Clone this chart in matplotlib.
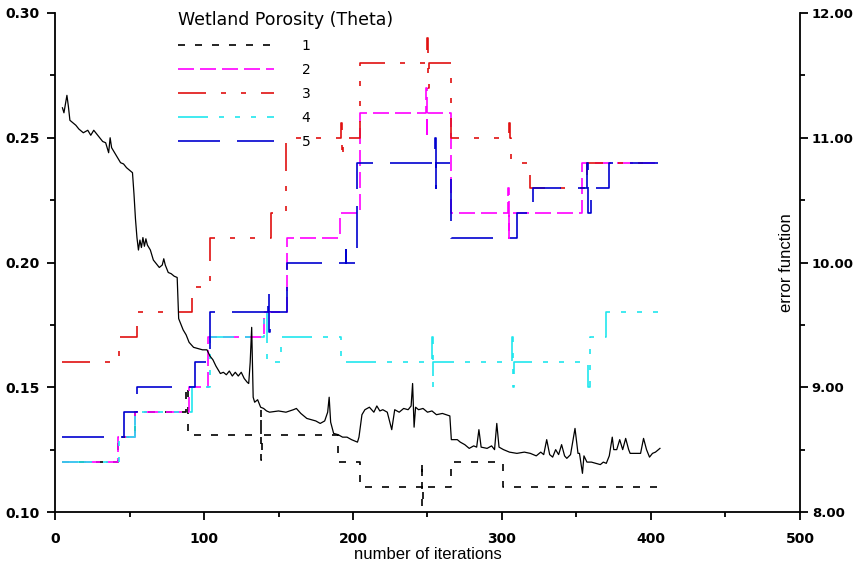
import numpy as np
import matplotlib
matplotlib.use("Agg")
import matplotlib.pyplot as plt
from matplotlib.ticker import MultipleLocator, FormatStrFormatter

plt.rcParams['lines.scale_dashes'] = False

# ---- data ----
# porosity parameter sets, step values vs iteration
it1 = [5, 42, 54, 88, 89, 138, 138.5, 139, 190, 205, 246, 246.5, 247, 266, 301, 405]
th1 = [0.12, 0.13, 0.14, 0.15, 0.131, 0.141, 0.121, 0.131, 0.12, 0.11, 0.12, 0.102, 0.11, 0.12, 0.11, 0.11]

it2 = [5, 42, 54, 90, 103, 140, 156, 191, 205, 249, 249.5, 250, 266, 304, 304.5, 305, 354, 405]
th2 = [0.12, 0.13, 0.14, 0.15, 0.17, 0.18, 0.21, 0.22, 0.26, 0.27, 0.25, 0.26, 0.22, 0.23, 0.21, 0.22, 0.24, 0.24]

it3 = [5, 43, 55, 92, 104, 145, 155, 192, 192.5, 193, 205, 250, 250.5, 251, 266, 305, 305.5, 306, 319, 357, 405]
th3 = [0.16, 0.17, 0.18, 0.19, 0.21, 0.22, 0.25, 0.256, 0.242, 0.25, 0.28, 0.29, 0.27, 0.28, 0.25, 0.256, 0.25, 0.24, 0.23, 0.24, 0.24]

it4 = [5, 43, 54, 92, 104, 140, 142, 152, 192, 253, 253.5, 254, 307, 307.5, 308, 358, 359, 370, 405]
th4 = [0.12, 0.13, 0.14, 0.15, 0.17, 0.18, 0.16, 0.17, 0.16, 0.17, 0.15, 0.16, 0.17, 0.15, 0.16, 0.15, 0.17, 0.18, 0.18]

it5 = [5, 46, 55, 94, 104, 143, 143.5, 144, 156, 195, 195.5, 203, 255, 255.5, 256, 266, 310, 321, 357, 358, 360, 372, 405]
th5 = [0.13, 0.14, 0.15, 0.16, 0.18, 0.188, 0.172, 0.18, 0.20, 0.205, 0.20, 0.24, 0.25, 0.23, 0.24, 0.21, 0.22, 0.23, 0.24, 0.22, 0.23, 0.24, 0.24]

labels = ['1', '2', '3', '4', '5']

# error function (right axis)
err_it = [5, 6, 8, 9, 10, 12, 14, 16, 19, 22, 24, 26, 28, 30, 32, 34, 36, 37, 38, 40,
          42, 44, 46, 48, 50, 52, 53, 54, 55, 56, 57, 58, 59, 60, 61, 62, 64, 66, 68, 70,
          72, 73, 74, 76, 78, 80, 82, 83, 84, 86, 88, 90, 93, 96, 99, 102, 104, 106, 108, 111,
          113, 115, 117, 119, 121, 123, 125, 127, 129, 130, 131, 132, 133, 134, 136, 138, 140, 142, 144, 150,
          155, 160, 162, 165, 169, 172, 175, 178, 181, 183, 184, 185, 187, 190, 193, 196, 199, 203, 204, 206,
          208, 211, 214, 216, 218, 220, 223, 226, 228, 231, 234, 237, 239, 240, 241, 242, 244, 247, 250, 253,
          256, 260, 265, 266, 270, 272, 275, 278, 281, 283, 284.5, 286, 290, 293, 295, 296.5, 298, 301, 305, 310,
          315, 319, 323, 326, 328, 330, 332, 334, 336, 338, 340, 342, 343.5, 346, 349, 351, 352, 354, 355, 357,
          360, 363, 366, 368, 370, 372, 374, 375, 377, 379, 381, 383, 385, 386, 390, 393, 395, 397, 399, 401,
          403, 406]
err_val = [11.24, 11.20, 11.34, 11.25, 11.14, 11.12, 11.10, 11.07, 11.04, 11.06, 11.02, 11.06, 11.03, 11.0, 10.97, 10.96, 10.88, 11.0, 10.92, 10.88,
           10.84, 10.8, 10.79, 10.76, 10.74, 10.72, 10.55, 10.35, 10.2, 10.1, 10.18, 10.12, 10.2, 10.13, 10.19, 10.14, 10.1, 10.02, 9.99, 9.96,
           9.98, 10.03, 9.98, 9.92, 9.91, 9.89, 9.88, 9.55, 9.52, 9.46, 9.42, 9.36, 9.32, 9.31, 9.3, 9.3, 9.25, 9.22, 9.17, 9.11,
           9.12, 9.1, 9.13, 9.09, 9.12, 9.09, 9.12, 9.07, 9.04, 9.03, 9.2, 9.48, 8.92, 8.88, 8.9, 8.84, 8.83, 8.81, 8.8, 8.81,
           8.8, 8.82, 8.83, 8.79, 8.75, 8.74, 8.73, 8.71, 8.73, 8.8, 8.92, 8.72, 8.63, 8.62, 8.6, 8.6, 8.58, 8.56, 8.6, 8.78,
           8.82, 8.84, 8.8, 8.85, 8.81, 8.82, 8.8, 8.66, 8.82, 8.8, 8.83, 8.82, 8.85, 9.03, 8.68, 8.84, 8.82, 8.83, 8.8, 8.81,
           8.78, 8.79, 8.77, 8.58, 8.58, 8.56, 8.54, 8.51, 8.53, 8.52, 8.66, 8.52, 8.51, 8.53, 8.5, 8.71, 8.52, 8.5, 8.48, 8.47,
           8.48, 8.47, 8.45, 8.48, 8.46, 8.58, 8.46, 8.44, 8.5, 8.46, 8.54, 8.45, 8.43, 8.46, 8.67, 8.47, 8.47, 8.31, 8.45, 8.4,
           8.4, 8.39, 8.38, 8.4, 8.39, 8.45, 8.6, 8.5, 8.5, 8.58, 8.5, 8.59, 8.5, 8.47, 8.47, 8.47, 8.59, 8.5, 8.44, 8.47,
           8.48, 8.51]

px = 0.72  # pixel -> point at dpi 100

fig = plt.figure(figsize=(8.57, 5.71), dpi=100)
ax = fig.add_axes([55/857, 59/571, 745/857, 499/571])
ax2 = ax.twinx()

styles = [
    dict(color='black', dashes=(7*px, 10*px)),
    dict(color='#ff00ff', dashes=(16*px, 6*px)),
    dict(color='#e01010', dashes=(28*px, 15*px, 5*px, 15*px, 5*px, 15*px)),
    dict(color='#20e6ee', dashes=(30*px, 11*px, 5*px, 11*px, 5*px, 11*px, 5*px, 11*px)),
    dict(color='#0000d0', dashes=(42*px, 17*px)),
]
series = [(it1, th1), (it2, th2), (it3, th3), (it4, th4), (it5, th5)]

handles = []
for (xs, ys), st, lab in zip(series, styles, labels):
    h, = ax.plot(xs, ys, drawstyle='steps-post', lw=1.2, label=lab, **st)
    handles.append(h)

ax2.plot(err_it, err_val, color='black', lw=0.9)

ax.set_xlim(0, 500)
ax.set_ylim(0.10, 0.30)
ax2.set_ylim(8, 12)

ax.xaxis.set_major_locator(MultipleLocator(100))
ax.xaxis.set_minor_locator(MultipleLocator(50))
ax.yaxis.set_major_locator(MultipleLocator(0.05))
ax.yaxis.set_minor_locator(MultipleLocator(0.025))
ax.yaxis.set_major_formatter(FormatStrFormatter('%.2f'))
ax2.yaxis.set_major_locator(MultipleLocator(1))
ax2.yaxis.set_minor_locator(MultipleLocator(0.5))
ax2.yaxis.set_major_formatter(FormatStrFormatter('%.2f'))

for a in (ax, ax2):
    a.spines['top'].set_visible(False)
    for s in a.spines.values():
        s.set_linewidth(1.3)
    a.tick_params(which='major', length=6, width=1.3, pad=5, labelsize=10)
    a.tick_params(which='minor', length=3.5, width=1.3)
ax.tick_params(axis='x', which='major', pad=8.5)
ax2.tick_params(axis='y', which='major', pad=2.5, labelsize=9.5)
ax.spines['right'].set_visible(False)
ax2.spines['left'].set_visible(False)
ax2.spines['bottom'].set_visible(False)

for lbl in ax.get_xticklabels() + ax.get_yticklabels() + ax2.get_yticklabels():
    lbl.set_fontweight('bold')
    lbl.set_family('DejaVu Sans')

ax.set_xlabel('number of iterations', family='Liberation Sans', fontsize=12, labelpad=0.5)
ax2.set_ylabel('error function', family='Liberation Sans', fontsize=12)
ax2.yaxis.set_label_coords(0.972, 0.5)

leg = fig.legend(handles=handles, loc='upper left', bbox_to_anchor=(171/857, 1 - 4/571),
                 frameon=False, borderpad=0, handlelength=6.9, handletextpad=2.0,
                 labelspacing=0.72, alignment='left',
                 title='Wetland Porosity (Theta)',
                 prop=dict(family='DejaVu Sans', size=10),
                 title_fontproperties=dict(family='DejaVu Sans', size=12.5))

fig.savefig('out.png', dpi=100)
